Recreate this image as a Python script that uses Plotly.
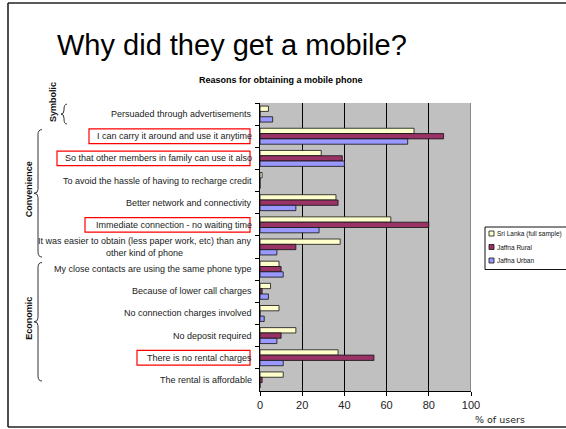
import plotly.graph_objects as go

# Reasons, listed top to bottom
reasons = [
    "Persuaded through advertisements",
    "I can carry it around and use it anytime",
    "So that other members in family can use it also",
    "To avoid the hassle of having to recharge credit",
    "Better network and connectivity",
    "Immediate connection - no waiting time",
    "It was easier to obtain (less paper work, etc) than any<br>other kind of phone",
    "My close contacts are using the same phone type",
    "Because of lower call charges",
    "No connection charges involved",
    "No deposit required",
    "There is no rental charges",
    "The rental is affordable",
]
series_names = ["Sri Lanka (full sample)", "Jaffna Rural", "Jaffna Urban"]
sri_lanka = [4, 73, 29, 1, 36, 62, 38, 9, 5, 9, 17, 37, 11]
jaffna_rural = [0, 87, 39, 0, 37, 80, 17, 10, 1, 0, 10, 54, 1]
jaffna_urban = [6, 70, 40, 0, 17, 28, 8, 11, 4, 2, 8, 11, 0]
x_ticks = [0, 20, 40, 60, 80, 100]
highlighted = [
    ("I can carry it around and use it anytime", 89),
    ("So that other members in family can use it also", 57),
    ("Immediate connection - no waiting time", 85),
    ("There is no rental charges", 137),
]
# group name, first and last reason index
groups = [("Symbolic", 0, 0), ("Convenience", 1, 6), ("Economic", 7, 12)]

colors = ["#FFFFCC", "#993366", "#9999FF"]

W, H = 566, 429
L, R, T, B = 260, 471, 103, 391
STEP = (B - T) / len(reasons)


def px(x):
    return (x - L) / (R - L)


def py(y):
    return (B - y) / (B - T)


def y_of_index(i):
    return T + STEP * (i + 0.5)


fig = go.Figure()
for name, vals, col in zip(series_names, [sri_lanka, jaffna_rural, jaffna_urban], colors):
    fig.add_trace(go.Bar(
        y=reasons, x=vals, name=name, orientation="h",
        marker=dict(color=col, line=dict(color="#111111", width=0.8)),
        showlegend=False,
    ))

annotations = []
shapes = []

# category labels on the left
for r in reasons:
    annotations.append(dict(
        x=0, xref="paper", y=r, yref="y", text=r, showarrow=False,
        xanchor="right", yanchor="middle", xshift=-6, align="center",
        font=dict(family="Liberation Sans, Arial", size=9, color="#1a1a1a"),
    ))

# red boxes around highlighted reasons
for r, left in highlighted:
    i = reasons.index(r)
    shapes.append(dict(
        type="rect", xref="paper", yref="y",
        x0=px(left), x1=px(250), y0=i - 0.33, y1=i + 0.33,
        line=dict(color="#FF0000", width=1.2), fillcolor="rgba(0,0,0,0)",
    ))


def brace(top, bot, xr, xl):
    xm = (xr + xl) / 2
    mid = (top + bot) / 2
    pts = [
        f"M {px(xr)},{py(top)}",
        f"Q {px(xm)},{py(top)} {px(xm)},{py(top + 5)}",
        f"L {px(xm)},{py(mid - 4)}",
        f"Q {px(xm)},{py(mid)} {px(xl)},{py(mid)}",
        f"Q {px(xm)},{py(mid)} {px(xm)},{py(mid + 4)}",
        f"L {px(xm)},{py(bot - 5)}",
        f"Q {px(xm)},{py(bot)} {px(xr)},{py(bot)}",
    ]
    return dict(type="path", xref="paper", yref="paper", path=" ".join(pts),
                line=dict(color="#333333", width=1))


label_font = dict(family="Liberation Sans, Arial", size=9, color="#111")
for gname, i0, i1 in groups:
    if i0 == i1:
        top = y_of_index(i0) - STEP * 0.45
        bot = y_of_index(i1) + STEP * 0.45
        shapes.append(brace(top, bot, 67, 61))
        lx, ly = 53, top - 2
    else:
        top = y_of_index(i0) - STEP * 0.3
        bot = y_of_index(i1) + STEP * (0.45 if i1 < len(reasons) - 1 else 0.05)
        shapes.append(brace(top, bot, 42, 34))
        lx, ly = 29, (top + bot) / 2 - 4
    annotations.append(dict(
        x=px(lx), y=py(ly), xref="paper", yref="paper",
        text=f"<b>{gname}</b>", showarrow=False, textangle=-90,
        xanchor="center", yanchor="middle", font=label_font,
    ))

# right edge of plot area
shapes.append(dict(type="line", xref="x", yref="paper", x0=100, x1=100, y0=0, y1=1,
                   line=dict(color="#555555", width=1)))

# slide frame
frame = dict(color="#222222", width=1.6)
shapes.append(dict(type="line", xref="paper", yref="paper", x0=px(8), x1=px(8), y0=py(3), y1=py(427), line=frame))
shapes.append(dict(type="line", xref="paper", yref="paper", x0=px(8), x1=px(570), y0=py(3), y1=py(3), line=frame))
shapes.append(dict(type="line", xref="paper", yref="paper", x0=px(8), x1=px(570), y0=py(427), y1=py(427), line=frame))

# legend box
lg_top, lg_row = 227, 13.5
shapes.append(dict(type="rect", xref="paper", yref="paper",
                   x0=px(485), x1=px(600), y0=py(lg_top), y1=py(lg_top + 3 * lg_row + 2),
                   line=dict(color="#111", width=1), fillcolor="white"))
for k, (name, col) in enumerate(zip(series_names, colors)):
    yc = lg_top + 6.5 + k * lg_row
    shapes.append(dict(type="rect", xref="paper", yref="paper",
                       x0=px(489), x1=px(494), y0=py(yc - 2.5), y1=py(yc + 2.5),
                       line=dict(color="#111", width=0.8), fillcolor=col))
    annotations.append(dict(
        x=px(495), y=py(yc), xref="paper", yref="paper", text=name,
        showarrow=False, xanchor="left", yanchor="middle",
        font=dict(family="Liberation Sans, Arial", size=6.5, color="#111"),
    ))

# titles
annotations.append(dict(
    x=px(55), y=py(45), xref="paper", yref="paper", text="Why did they get a mobile?",
    showarrow=False, xanchor="left", yanchor="middle",
    font=dict(family="Liberation Sans, Arial", size=29, color="#000"),
))
annotations.append(dict(
    x=px(281), y=py(80), xref="paper", yref="paper",
    text="<b>Reasons for obtaining a mobile phone</b>",
    showarrow=False, xanchor="center", yanchor="middle",
    font=dict(family="Liberation Sans, Arial", size=9, color="#000"),
))
annotations.append(dict(
    x=px(473), y=py(419), xref="paper", yref="paper", text="% of users",
    showarrow=False, xanchor="left", yanchor="middle",
    font=dict(family="DejaVu Sans, Verdana", size=9.5, color="#222"),
))

fig.update_layout(
    width=W, height=H,
    margin=dict(l=L, r=W - R, t=T, b=H - B, autoexpand=False),
    paper_bgcolor="white", plot_bgcolor="#C0C0C0",
    barmode="group", bargap=0.28, bargroupgap=0,
    annotations=annotations, shapes=shapes,
    xaxis=dict(range=[0, 100], tickvals=x_ticks, showgrid=True, gridcolor="#000000",
               gridwidth=1, zeroline=False, showline=True, linecolor="#000", linewidth=1,
               ticks="outside", ticklen=4, tickcolor="#000",
               tickfont=dict(family="Liberation Sans, Arial", size=11, color="#222")),
    yaxis=dict(autorange="reversed", showticklabels=False, ticks="outside",
               tickson="boundaries", ticklen=4, tickcolor="#000", showline=True,
               linecolor="#000", linewidth=1, showgrid=False, zeroline=False),
)

fig.write_html("out.html")
